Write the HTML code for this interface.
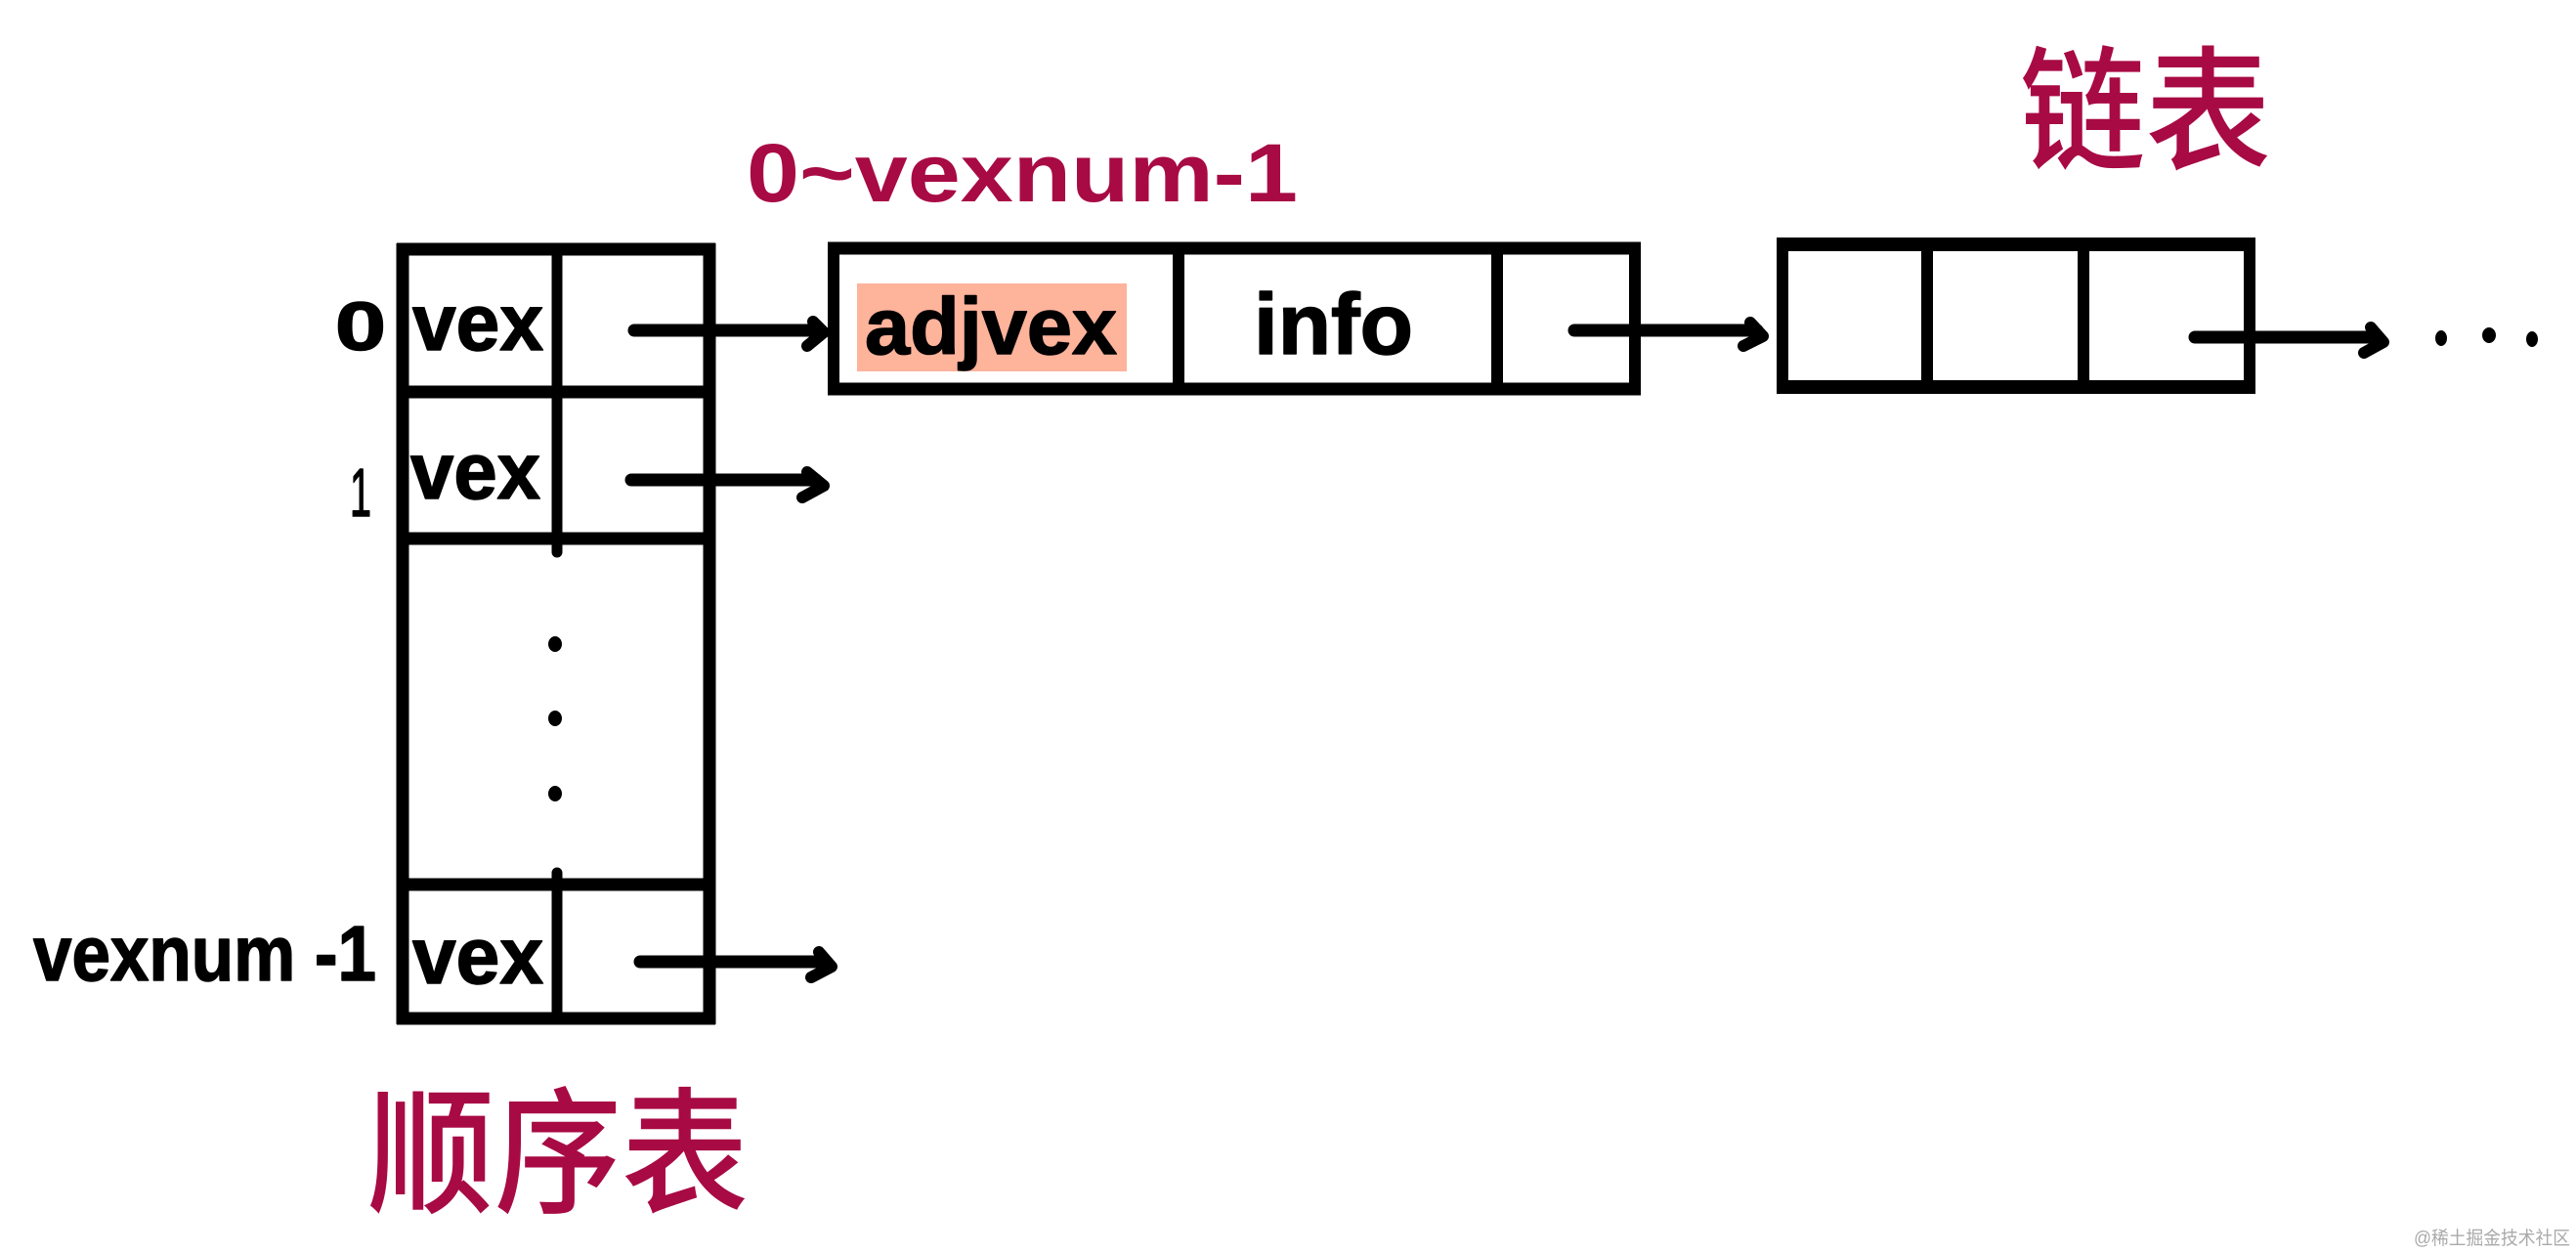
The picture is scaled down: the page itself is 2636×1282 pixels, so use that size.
<!DOCTYPE html>
<html><head><meta charset="utf-8"><style>
html,body{margin:0;padding:0;background:#fff;width:2636px;height:1282px;overflow:hidden}
svg{display:block}
text{font-family:"Liberation Sans","Noto Sans CJK SC",sans-serif}
.k{fill:#000;font-weight:700;stroke:#000;stroke-width:1.5px;stroke-linejoin:round}
.r{fill:#a80a44;font-weight:700}
</style></head><body>
<svg width="2636" height="1282" viewBox="0 0 2636 1282" xmlns="http://www.w3.org/2000/svg">
<rect width="2636" height="1282" fill="#fff"/>
<rect x="877" y="290" width="276" height="90" fill="#feb39b"/>
<g fill="none" stroke="#000" stroke-linecap="butt" stroke-linejoin="miter">
<!-- left table -->
<path d="M570 255V565M570 893V1042" stroke-width="11" stroke-linecap="round"/>
<path d="M412 249V1048" stroke-width="13"/>
<path d="M726 249V1048" stroke-width="13"/>
<path d="M406 255H732M406 401H732M406 551H732M406 905H732M406 1042H732" stroke-width="13"/>
<!-- node 1 -->
<path d="M853 248V404M1673 248V404" stroke-width="12"/>
<path d="M1206 248V404M1532 248V404" stroke-width="12"/>
<path d="M847 254H1679M847 398H1679" stroke-width="13"/>
<!-- node 2 -->
<path d="M1824 243V403M2302 243V403" stroke-width="12"/>
<path d="M1972 243V403M2132 243V403" stroke-width="12"/>
<path d="M1818 250H2308M1818 396H2308" stroke-width="14"/>
<!-- arrows -->
<g stroke-width="13" stroke-linecap="round" stroke-linejoin="round">
<path d="M649 338H838"/><path d="M832 329L843 340L826 354" stroke-width="12"/>
<path d="M646 491H835"/><path d="M826 483L843 497L821 509" stroke-width="12"/>
<path d="M655 984H845"/><path d="M838 974L851 989L830 1000" stroke-width="12"/>
<path d="M1611 338H1798"/><path d="M1791 330L1804 344L1784 354" stroke-width="12"/>
<path d="M2246 345H2432"/><path d="M2426 335L2439 350L2419 361" stroke-width="12"/>
</g>
</g>
<g fill="#000">
<ellipse cx="568" cy="659" rx="7" ry="8"/>
<ellipse cx="568" cy="735" rx="7" ry="8"/>
<ellipse cx="568" cy="812" rx="7" ry="8"/>
<ellipse cx="2498" cy="346" rx="6" ry="8"/>
<ellipse cx="2547" cy="343" rx="7" ry="8"/>
<ellipse cx="2591" cy="347" rx="6" ry="8"/>
</g>
<text class="k" x="343" y="358" font-size="70" textLength="52" lengthAdjust="spacingAndGlyphs">0</text>
<text class="k" x="422" y="358" font-size="82" textLength="134" lengthAdjust="spacingAndGlyphs">vex</text>
<text class="k" x="420" y="510" font-size="82" textLength="133" lengthAdjust="spacingAndGlyphs">vex</text>
<text class="k" x="422" y="1006" font-size="82" textLength="134" lengthAdjust="spacingAndGlyphs">vex</text>
<text class="k" x="358" y="528" font-size="70" textLength="22" lengthAdjust="spacingAndGlyphs" style="font-weight:400">1</text>
<text class="k" x="34" y="1003" font-size="80" textLength="351" lengthAdjust="spacingAndGlyphs">vexnum -1</text>
<text class="k" x="885" y="362" font-size="82" textLength="258" lengthAdjust="spacingAndGlyphs">adjvex</text>
<text class="k" x="1283" y="362" font-size="88" textLength="163" lengthAdjust="spacingAndGlyphs">info</text>
<text class="r" x="764" y="206" font-size="84" textLength="564" lengthAdjust="spacingAndGlyphs">0~vexnum-1</text>
<text class="r" x="376" y="1230" font-size="140" textLength="390" lengthAdjust="spacingAndGlyphs" style="font-weight:500">顺序表</text>
<text class="r" x="2067" y="163" font-size="138" textLength="257" lengthAdjust="spacingAndGlyphs" style="font-weight:500">链表</text>
<text x="2470" y="1273" font-size="19" fill="#aaaaaa" textLength="160" lengthAdjust="spacingAndGlyphs">@稀土掘金技术社区</text>
</svg>
</body></html>
